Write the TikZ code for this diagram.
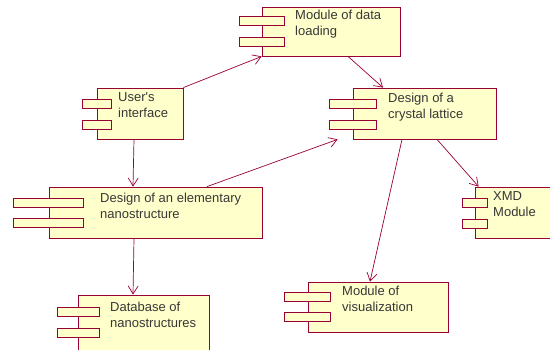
\documentclass[tikz,border=0pt]{standalone}
\usepackage{fontspec}
\setmainfont{Liberation Sans}
\usetikzlibrary{arrows.meta}
\definecolor{rosered}{RGB}{153,0,51}
\definecolor{roseyellow}{RGB}{255,255,204}
\definecolor{rosetext}{RGB}{55,55,55}

\begin{document}
\begin{tikzpicture}[x=1pt,y=-1pt,
    comp/.style={draw=rosered,fill=roseyellow,line width=0.8pt,inner sep=0pt},
    tab/.style={draw=rosered,fill=roseyellow,line width=0.7pt,inner sep=0pt,minimum height=9pt},
    lbl/.style={anchor=north west,inner sep=0pt,align=left,text=rosetext,
        font=\fontsize{13}{16}\selectfont},
    dep/.style={draw=rosered,line width=0.7pt,-{Straight Barb[length=8pt,width=10pt]}}]
    \clip (0,0) rectangle (550,350);
    \useasboundingbox (0,0) rectangle (550,350);

	% components
	\node[comp,minimum width=138pt,minimum height=49pt] (load) at (331,31.5) {};
	\node[tab,minimum width=45pt] (loadtaba) at (261.5,20.5) {};
	\node[tab,minimum width=45pt] (loadtabb) at (261.5,41.5) {};
	\node[lbl] (loadtxt) at (295,9.5) {Module of data\\loading};

	\node[comp,minimum width=86pt,minimum height=51pt] (user) at (140,113.5) {};
	\node[tab,minimum width=29pt] (usertaba) at (96.5,104) {};
	\node[tab,minimum width=29pt] (usertabb) at (96.5,124.5) {};
	\node[lbl] (usertxt) at (118,92.5) {User\textquotesingle s\\interface};

	\node[comp,minimum width=213pt,minimum height=51pt] (elem) at (155.5,212.5) {};
	\node[tab,minimum width=70pt] (elemtaba) at (48,202.5) {};
	\node[tab,minimum width=70pt] (elemtabb) at (48,223) {};
	\node[lbl] (elemtxt) at (100,192.5) {Design of an elementary\\nanostructure};

	\node[comp,minimum width=143pt,minimum height=51pt] (cryst) at (424.5,113.5) {};
	\node[tab,minimum width=47pt] (crysttaba) at (352.5,104) {};
	\node[tab,minimum width=47pt] (crysttabb) at (352.5,124.5) {};
	\node[lbl] (crysttxt) at (388,92.5) {Design of a\\crystal lattice};

	\node[comp,minimum width=85pt,minimum height=51pt] (xmd) at (517.5,212.5) {};
	\node[tab,minimum width=25pt] (xmdtaba) at (474.5,202.5) {};
	\node[tab,minimum width=25pt] (xmdtabb) at (474.5,223.5) {};
	\node[lbl] (xmdtxt) at (493,191.5) {XMD\\Module};

	\node[comp,minimum width=131pt,minimum height=57pt] (base) at (143.5,323.5) {};
	\node[tab,minimum width=42pt] (basetaba) at (78,311.5) {};
	\node[tab,minimum width=42pt] (basetabb) at (78,332.5) {};
	\node[lbl] (basetxt) at (110,301.5) {Database of\\nanostructures};

	\node[comp,minimum width=140pt,minimum height=50pt] (vis) at (378,307) {};
	\node[tab,minimum width=46pt] (vistaba) at (307,296.5) {};
	\node[tab,minimum width=46pt] (vistabb) at (307,317) {};
	\node[lbl] (vistxt) at (342,285.5) {Module of\\visualization};

	% dependencies
	\draw[dep] (user.north east) -- (load.south west);
	\draw[dep] ([xshift=17pt]load.south) -- ([xshift=-41.5pt]cryst.north);
	\draw[dep] ([xshift=-6pt]user.south) -- ([xshift=-22.5pt]elem.north);
	\draw[dep] ([xshift=51.5pt]elem.north) -- ([xshift=-15pt]cryst.south west);
	\draw[dep] ([xshift=-22.5pt]cryst.south) -- ([xshift=-8pt]vis.north);
	\draw[dep] ([xshift=12.5pt]cryst.south) -- ([xshift=4pt]xmd.north west);
	\draw[dep] ([xshift=-21.5pt]elem.south) -- ([xshift=-10.5pt]base.north);
\end{tikzpicture}
\end{document}
